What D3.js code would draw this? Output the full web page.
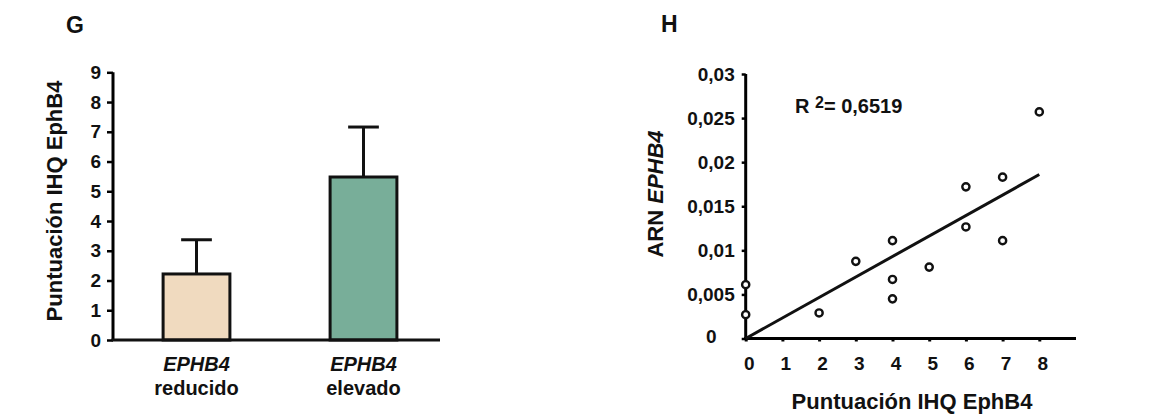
<!DOCTYPE html>
<html>
<head>
<meta charset="utf-8">
<script src="https://cdn.jsdelivr.net/npm/d3@7"></script>
<style>
  html, body { margin: 0; padding: 0; background: #fff; }
  svg { display: block; font-family: "Liberation Sans", Arial, Helvetica, sans-serif; font-weight: bold; }
</style>
</head>
<body>
<svg id="fig" width="1150" height="417"></svg>
<script>
// ---- Panel G: IHC score by EPHB4 group ----
const groupGene = "EPHB4";
const groupNames = ["reducido", "elevado"];
const groupMeans = [2.22, 5.48];
const groupErrors = [1.15, 1.68];
const groupColors = ["#f0dabf", "#78ae99"];
const gTicks = [0, 1, 2, 3, 4, 5, 6, 7, 8, 9];

// ---- Panel H: EPHB4 RNA vs IHC score ----
const ihcScore = [0, 0, 2, 3, 4, 4, 4, 5, 6, 6, 7, 7, 8];
const rnaLevel = [0.0061, 0.0027, 0.0029, 0.00875, 0.0111, 0.0067, 0.0045, 0.0081, 0.0172, 0.01265, 0.0183, 0.0111, 0.0257];
const fitX = [0, 8];
const fitY = [0, 0.0186];
const hXTicks = [0, 1, 2, 3, 4, 5, 6, 7, 8];
const hYTicks = [0, 0.005, 0.01, 0.015, 0.02, 0.025, 0.03];
const rSquared = "0,6519";

const svg = d3.select("#fig");
const esFormat = d3.formatLocale({ decimal: ",", thousands: ".", grouping: [3], currency: ["", "€"] }).format("~g");
const tickFont = sel => sel.attr("font-size", 19).attr("font-family", "Liberation Sans, Arial, sans-serif")
  .attr("font-weight", "bold").attr("fill", "#111");

// ================= Panel G =================
const gx = d3.scaleBand().domain(groupNames).range([113, 447]).paddingInner(0.6).paddingOuter(0.3);
const gy = d3.scaleLinear().domain([0, 9]).range([340, 72.3]);

svg.append("text").attr("x", 66).attr("y", 33).attr("font-size", 23).attr("fill", "#111").text("G");

const gYAxis = svg.append("g").attr("transform", "translate(113,0)")
  .call(d3.axisLeft(gy).tickValues(gTicks).tickFormat(d3.format("d")).tickSize(6).tickPadding(6));
gYAxis.select(".domain").attr("stroke-width", 3).attr("d", `M0,${gy(9)}V${gy(0)}`);
gYAxis.selectAll(".tick line").attr("stroke-width", 2.5);
gYAxis.selectAll("text").call(tickFont);

// bars with upper error bars
const gBars = svg.append("g");
groupNames.forEach((name, i) => {
  const cx = gx(name) + gx.bandwidth() / 2;
  const top = groupMeans[i] + groupErrors[i];
  const capHalf = gx.bandwidth() * 0.23;
  gBars.append("line").attr("x1", cx).attr("x2", cx).attr("y1", gy(groupMeans[i])).attr("y2", gy(top))
    .attr("stroke", "#111").attr("stroke-width", 3);
  gBars.append("line").attr("x1", cx - capHalf).attr("x2", cx + capHalf).attr("y1", gy(top)).attr("y2", gy(top))
    .attr("stroke", "#111").attr("stroke-width", 3);
  gBars.append("rect").attr("x", gx(name)).attr("y", gy(groupMeans[i]))
    .attr("width", gx.bandwidth()).attr("height", gy(0) - gy(groupMeans[i]))
    .attr("fill", groupColors[i]).attr("stroke", "#111").attr("stroke-width", 3);
});

// x baseline
svg.append("line").attr("x1", 111.5).attr("x2", gx.range()[1] - 7).attr("y1", gy(0)).attr("y2", gy(0))
  .attr("stroke", "#111").attr("stroke-width", 3);

// category labels
groupNames.forEach(name => {
  const cx = gx(name) + gx.bandwidth() / 2;
  svg.append("text").attr("x", cx).attr("y", 371).attr("text-anchor", "middle")
    .attr("font-size", 20).attr("font-style", "italic").attr("fill", "#111").text(groupGene);
  svg.append("text").attr("x", cx).attr("y", 395).attr("text-anchor", "middle")
    .attr("font-size", 20).attr("fill", "#111").text(name);
});

svg.append("text").attr("transform", "translate(62,201) rotate(-90)").attr("text-anchor", "middle")
  .attr("font-size", 22).attr("fill", "#111").text("Puntuación IHQ EphB4");

// ================= Panel H =================
const hx = d3.scaleLinear().domain([0, 9]).range([745.7, 1076]);
const hy = d3.scaleLinear().domain([0, 0.03]).range([338.5, 74]);

svg.append("text").attr("x", 661).attr("y", 32).attr("font-size", 23).attr("fill", "#111").text("H");

const hYAxis = svg.append("g").attr("transform", `translate(${hx(0)},0)`)
  .call(d3.axisLeft(hy).tickValues(hYTicks).tickFormat(esFormat).tickSize(4).tickPadding(7));
hYAxis.select(".domain").attr("stroke-width", 3).attr("d", `M0,${hy(0.03)}V${hy(0)}`);
hYAxis.selectAll(".tick line").attr("stroke-width", 2.5);
hYAxis.selectAll("text").call(tickFont);
hYAxis.selectAll(".tick").filter(d => d === 0).select("text").attr("x", -29).attr("dy", "0.2em");

const hXAxis = svg.append("g").attr("transform", `translate(0,${hy(0)})`)
  .call(d3.axisBottom(hx).tickValues(hXTicks).tickFormat(d3.format("d")).tickSize(3).tickPadding(15));
hXAxis.select(".domain").attr("stroke-width", 3).attr("d", `M${hx(0) - 1.5},0H${hx(9)}`);
hXAxis.selectAll(".tick line").attr("stroke-width", 3);
hXAxis.selectAll("text").call(tickFont).attr("dx", 3);

// regression line
svg.append("path")
  .attr("d", d3.line().x(d => hx(d[0])).y(d => hy(d[1]))(fitX.map((x, i) => [x, fitY[i]])))
  .attr("fill", "none").attr("stroke", "#111").attr("stroke-width", 3);

// samples
svg.append("g").selectAll("circle").data(ihcScore.map((s, i) => [s, rnaLevel[i]])).join("circle")
  .attr("cx", d => hx(d[0])).attr("cy", d => hy(d[1])).attr("r", 3.6)
  .attr("fill", "#fff").attr("stroke", "#111").attr("stroke-width", 2.4);

// R squared annotation
const r2 = svg.append("text").attr("x", 795).attr("y", 113).attr("font-size", 20).attr("fill", "#111");
r2.append("tspan").text("R ");
r2.append("tspan").attr("font-size", 16).attr("dy", -5).text("2");
r2.append("tspan").attr("dy", 5).text("= " + rSquared);

// axis titles
svg.append("text").attr("x", 912).attr("y", 409).attr("text-anchor", "middle")
  .attr("font-size", 22).attr("fill", "#111").text("Puntuación IHQ EphB4");
const yt = svg.append("text").attr("transform", "translate(663,194) rotate(-90)").attr("text-anchor", "middle")
  .attr("font-size", 22).attr("fill", "#111");
yt.append("tspan").text("ARN ");
yt.append("tspan").attr("font-style", "italic").text("EPHB4");
</script>
</body>
</html>
